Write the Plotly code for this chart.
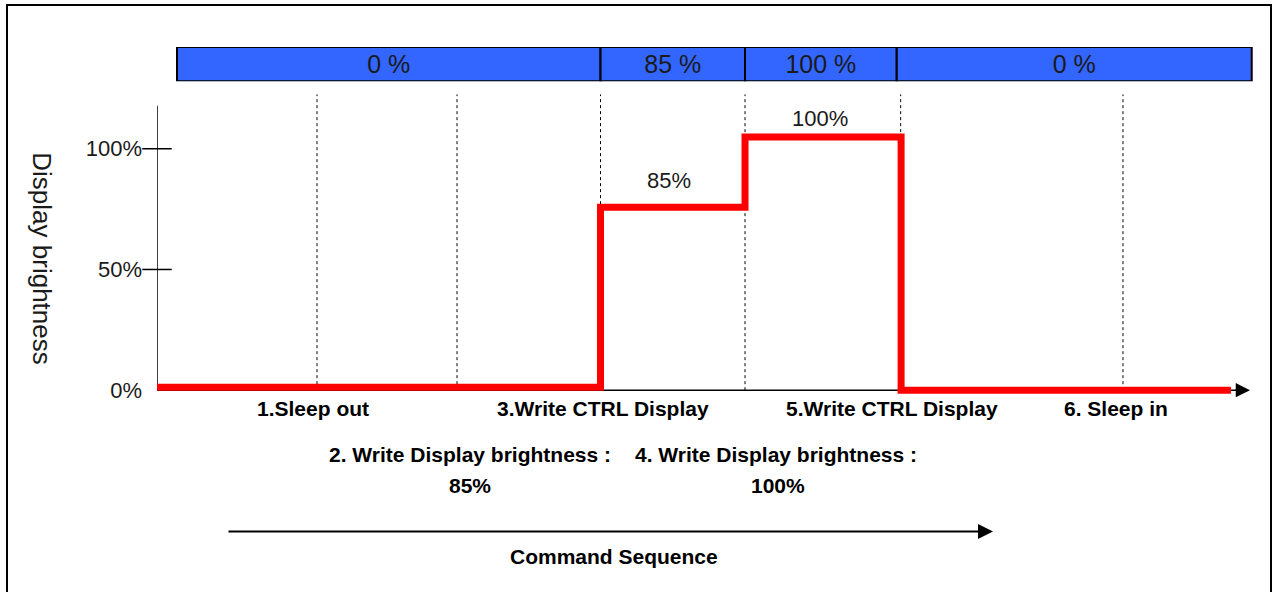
"""
Display brightness vs command sequence (step diagram).
"""

import plotly.graph_objects as go

FONT = "Liberation Sans, Arial, sans-serif"

# x is a relative sequence position (0..100 across the plot)
seq_x = [0, 40.58, 53.8, 68.08, 98.26]
brightness = [1.2, 75.8, 104.9, 0, 0]          # as drawn in the diagram
event_x = [14.64, 27.45, 40.58, 53.8, 68.04, 88.38]

bar_edges = [1.83, 40.58, 53.8, 67.68, 100.16]
bar_labels = ["0 %", "85 %", "100 %", "0 %"]

y_ticks = [0, 50, 100]
y_tick_labels = ["0%", "50%", "100%"]

level_labels = ["85%", "100%"]
level_x = [46.8, 60.7]
level_y = [86.9, 112.7]

row1_labels = ["1.Sleep out", "3.Write CTRL Display", "5.Write CTRL Display", "6. Sleep in"]
row1_x = [14.27, 40.85, 67.25, 87.74]
row2_labels = ["2. Write Display brightness :", "4. Write Display brightness :"]
row2_x = [28.64, 56.6]
row3_labels = ["85%", "100%"]
row3_x = [28.64, 56.8]

X_MAX = 100.46
Y_TOP = 122.6
Y_AXIS_TOP = 117.8

fig = go.Figure()

# dotted event lines
dx, dy = [], []
for x in event_x:
    dx += [x, x, None]
    dy += [0, Y_TOP, None]
fig.add_trace(go.Scatter(
    x=dx, y=dy, mode="lines",
    line=dict(color="black", width=1, dash="dot"),
    hoverinfo="skip",
))

# brightness step line
fig.add_trace(go.Scatter(
    x=seq_x, y=brightness, mode="lines",
    line=dict(color="#ff0000", width=7, shape="hv"),
    hoverinfo="skip",
))

# cross ticks on the y axis
fig.add_trace(go.Scatter(
    x=[0] * 2, y=y_ticks[1:], mode="markers",
    marker=dict(symbol="line-ew", size=21, line=dict(color="black", width=1.5)),
    cliponaxis=False, hoverinfo="skip",
))

# top brightness strip
starts = bar_edges[:-1]
widths = [b - a for a, b in zip(bar_edges[:-1], bar_edges[1:])]
fig.add_trace(go.Bar(
    x=widths, base=starts, y=[0] * len(widths), orientation="h",
    width=1, yaxis="y2",
    marker=dict(color="#3366ff", line=dict(color="black", width=2)),
    text=bar_labels, textposition="inside", insidetextanchor="middle",
    constraintext="none",
    textfont=dict(family=FONT, size=25, color="#1a1a1a"),
    hoverinfo="skip",
))

annotations = []
for t, x, y in zip(level_labels, level_x, level_y):
    annotations.append(dict(x=x, y=y, xref="x", yref="y", text=t, showarrow=False,
                            font=dict(family=FONT, size=22, color="#1a1a1a")))

bold = dict(family=FONT, size=21, color="black", weight="bold")
for labels, xs, py in [(row1_labels, row1_x, 412), (row2_labels, row2_x, 458),
                       (row3_labels, row3_x, 490)]:
    for t, x in zip(labels, xs):
        annotations.append(dict(x=x, y=1 - py / 592, xref="x", yref="paper", text=t,
                                xanchor="center", yanchor="middle",
                                showarrow=False, font=bold))

annotations += [
    # y axis title, reads top to bottom
    dict(x=-0.1043, y=1 - 261 / 592, xref="paper", yref="paper", text="Display brightness",
         xanchor="center", yanchor="middle", textangle=90, showarrow=False,
         font=dict(family=FONT, size=26, color="#1a1a1a")),
    # x axis arrow head
    dict(x=100.0, y=0, xref="x", yref="y", ax=98.5, ay=0, axref="x", ayref="y",
         text="", showarrow=True, arrowhead=2, arrowwidth=1.5, arrowsize=1.9,
         arrowcolor="black", standoff=0),
    # command sequence arrow
    dict(x=76.49, y=1 - 536 / 592, xref="x", yref="paper", ax=6.40, ay=0,
         axref="x", ayref="pixel", text="", showarrow=True, arrowhead=2,
         arrowwidth=2, arrowsize=1.5, arrowcolor="black", standoff=0),
    dict(x=41.8, y=1 - 561 / 592, xref="x", yref="paper", text="Command Sequence",
         xanchor="center", yanchor="middle", showarrow=False, font=bold),
]

fig.update_layout(
    width=1277, height=592,
    margin=dict(l=157, r=22, t=0, b=0),
    paper_bgcolor="white", plot_bgcolor="white",
    showlegend=False,
    font=dict(family=FONT, color="#1a1a1a"),
    xaxis=dict(range=[0, X_MAX], visible=False, fixedrange=True),
    yaxis=dict(range=[-3, Y_TOP], domain=[1 - 400.8 / 592, 1 - 95 / 592],
               showgrid=False, zeroline=False, showline=False, ticks="",
               tickvals=y_ticks, ticktext=y_tick_labels, ticklabelstandoff=14,
               tickfont=dict(family=FONT, size=22, color="#1a1a1a")),
    yaxis2=dict(range=[-0.5, 0.5], domain=[1 - 82 / 592, 1 - 47.5 / 592],
                visible=False, anchor="x"),
    annotations=annotations,
    shapes=[
        # axes
        dict(type="line", xref="x", yref="y", x0=0, x1=0, y0=0, y1=Y_AXIS_TOP,
             line=dict(color="black", width=1.5), layer="below"),
        dict(type="line", xref="x", yref="y", x0=0, x1=99, y0=0, y1=0,
             line=dict(color="black", width=1.5), layer="below"),
        # outer frame
        dict(type="rect", xref="paper", yref="paper", x0=-0.13661, x1=1.01457,
             y0=-0.02, y1=1 - 5 / 592, line=dict(color="black", width=2)),
    ],
)

fig.write_html(
    "out.html",
    config={"displayModeBar": False},
    post_script="document.body.style.margin='0';document.body.style.overflow='hidden';",
)
